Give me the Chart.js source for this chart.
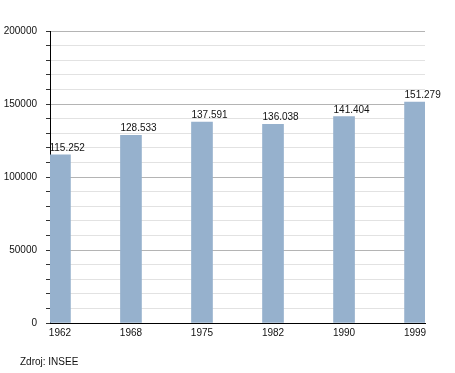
<!DOCTYPE html>
<html>
<head>
<meta charset="utf-8">
<script src="https://cdn.jsdelivr.net/npm/chart.js@4/dist/chart.umd.min.js"></script>
<style>
  html, body { margin: 0; padding: 0; background: #fff; }
  #wrap { width: 455px; height: 373px; }
</style>
</head>
<body>
<div id="wrap"><canvas id="chart-pop" width="455" height="373"></canvas></div>
<script>
// Population census (INSEE)
const YEARS      = ["1962", "1968", "1975", "1982", "1990", "1999"];
const POPULATION = [115252, 128533, 137591, 136038, 141404, 151279];
const SOURCE     = "Zdroj: INSEE";

const FONT       = "'Liberation Sans', Arial, sans-serif";
const BAR_COLOR  = "#96b1cd";
const MAJOR_GRID = "#b4b4b4";
const MINOR_GRID = "#e2e2e2";

const fmtDots = v => String(v).replace(/\B(?=(\d{3})+(?!\d))/g, ".");

const valueLabels = {
  id: "valueLabels",
  afterDatasetsDraw(chart) {
    const { ctx } = chart;
    const meta = chart.getDatasetMeta(0);
    ctx.save();
    ctx.font = `10px ${FONT}`;
    ctx.fillStyle = "#111";
    ctx.textAlign = "left";
    ctx.textBaseline = "alphabetic";
    meta.data.forEach((bar, i) => {
      ctx.fillText(fmtDots(POPULATION[i]), bar.x - bar.width / 2, bar.y - 4);
    });
    ctx.restore();
  },
};

const sourceNote = {
  id: "sourceNote",
  afterDraw(chart) {
    const { ctx } = chart;
    ctx.save();
    ctx.font = `10px ${FONT}`;
    ctx.fillStyle = "#111";
    ctx.textAlign = "left";
    ctx.textBaseline = "middle";
    ctx.fillText(SOURCE, 20, 362);
    ctx.restore();
  },
};

new Chart(document.getElementById("chart-pop"), {
  type: "bar",
  plugins: [valueLabels, sourceNote],
  data: {
    datasets: [{
      data: POPULATION.map((y, i) => ({ x: i, y })),
      backgroundColor: BAR_COLOR,
      borderWidth: 0,
      barThickness: 21,
    }],
  },
  options: {
    responsive: false,
    animation: false,
    layout: { padding: { left: 0, right: 30, top: 31, bottom: 0 } },
    plugins: { legend: { display: false }, tooltip: { enabled: false } },
    scales: {
      x: {
        type: "linear",
        offset: false,
        min: -0.14,
        max: 5.14,
        afterBuildTicks: axis => { axis.ticks = YEARS.map((_, i) => ({ value: i })); },
        afterFit: axis => { axis.height = 50; },
        ticks: {
          color: "#111",
          font: { family: FONT, size: 10 },
          padding: 4,
          maxRotation: 0,
          autoSkip: false,
          callback: v => YEARS[v],
        },
        grid: { display: false, drawTicks: false },
        border: { display: true, color: "#000", width: 1 },
      },
      y: {
        min: 0,
        max: 200000,
        afterFit: axis => { axis.width = 50; },
        ticks: {
          stepSize: 10000,
          autoSkip: false,
          color: "#111",
          font: { family: FONT, size: 10 },
          padding: 9,
          callback: v => (v % 50000 === 0 ? String(v) : ""),
        },
        grid: {
          color: c => (c.tick && c.tick.value % 50000 === 0 ? MAJOR_GRID : MINOR_GRID),
          tickColor: "#333",
          tickLength: 4,
          lineWidth: 1,
        },
        border: { display: true, color: "#000", width: 1 },
      },
    },
  },
});
</script>
</body>
</html>
